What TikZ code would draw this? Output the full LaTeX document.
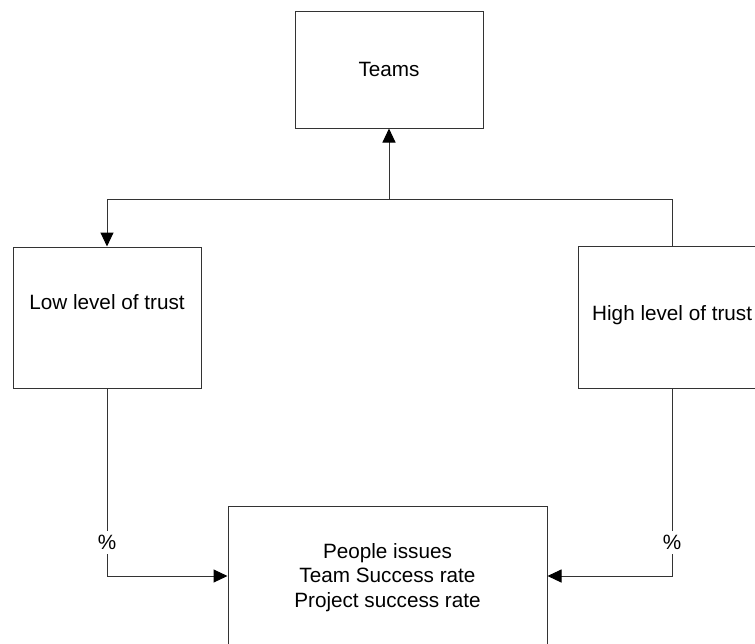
\documentclass[tikz,border=0pt]{standalone}
\usepackage{fontspec}
\setmainfont{Liberation Sans}
\usetikzlibrary{arrows.meta}
\begin{document}
\begin{tikzpicture}[x=1pt,y=-1pt,
  font=\fontsize{20.7}{24.5}\selectfont,
  box/.style={draw=black!80, line width=1pt, rectangle, inner sep=0pt},
  wire/.style={draw=black!80, line width=1pt},
  arr/.style={wire, -{Triangle[length=14pt,width=13pt,color=black]}},
  lbl/.style={inner sep=0pt, align=center},
  pct/.style={fill=white, inner sep=4pt}]
\useasboundingbox (0,0) rectangle (755,643);
\clip (0,0) rectangle (755,643);

% boxes
\node[box, minimum width=188pt, minimum height=117pt] (teams) at (389,69.5) {};
\node[box, minimum width=188pt, minimum height=141pt] (low) at (107,317.5) {};
\node[box, minimum width=188pt, minimum height=142pt] (high) at (672,317) {};
\node[box, minimum width=319pt, minimum height=140pt] (res) at (387.5,576) {};

% box texts
\node[lbl] (teamsT) at (389,69) {Teams};
\node[lbl] (lowT) at (107,302) {Low level of trust};
\node[lbl, anchor=west] (highT) at (592,315) {High level of trust};
\node[lbl] (resT) at (387.5,577.5) {People issues\\Team Success rate\\Project success rate};

% connectors
\coordinate (j) at (389,199);
\draw[arr] (j) -- (teams.south);
\draw[arr] (j) -| (low.north);
\draw[wire] (j) -| (high.north);
\draw[arr] (low.south) |- node[pct, pos=0.41] (pl) {\%} (res.west);
\draw[arr] (high.south) |- node[pct, pos=0.41] (pr) {\%} (res.east);
\end{tikzpicture}
\end{document}
